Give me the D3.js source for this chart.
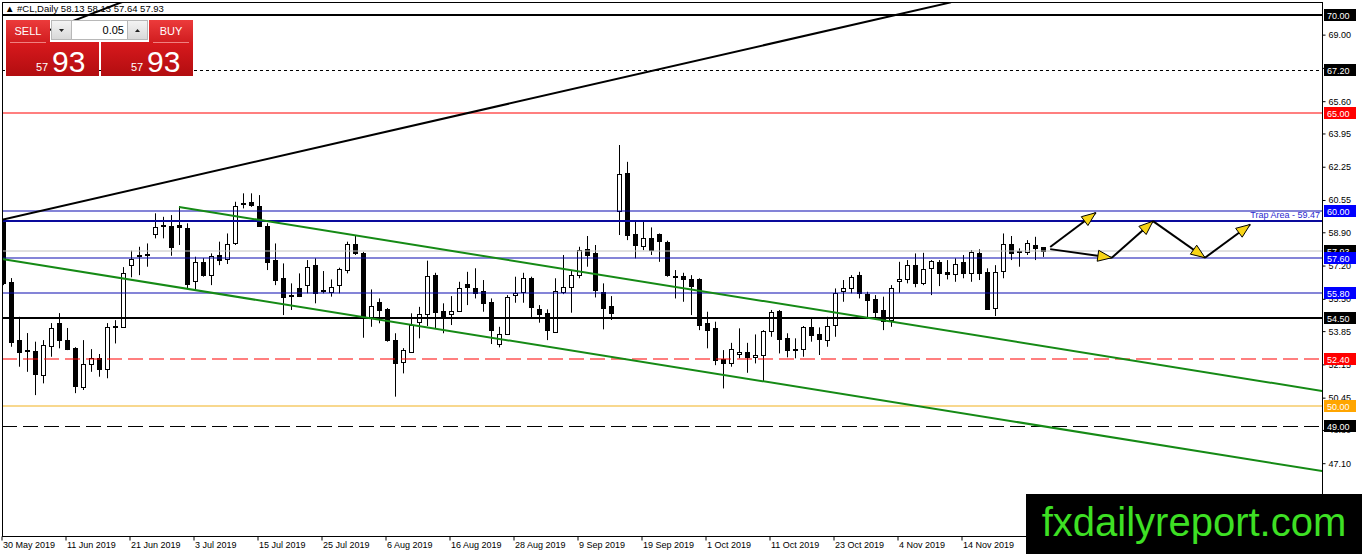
<!DOCTYPE html>
<meta charset="utf-8">
<script src="https://d3js.org/d3.v7.min.js"></script>
<style>
body { margin: 0; background: #fff; }
svg { display: block; font-family: "Liberation Sans", Arial, sans-serif; }
.axis text { font-size: 9px; fill: #000; }
.axis line { stroke: #000; }
</style>
<body>
<div id="chart"></div>
<script>
// #CL daily candles, 30 May 2019 .. 28 Nov 2019 (weekdays)
var startDay = new Date(2019, 4, 30);
var endDay = new Date(2019, 10, 29);

var open = [59.44,56.37,53.39,52.90,52.83,51.60,53.09,54.25,53.39,52.97,51.01,52.17,52.47,51.90,54.04,54.07,57.22,57.68,57.75,58.81,
59.25,59.22,59.27,59.10,56.42,57.39,56.71,57.74,57.52,58.33,60.36,60.43,60.24,59.22,57.48,56.55,55.71,56.03,56.17,57.22,
55.89,55.86,56.20,56.97,58.28,57.85,54.53,55.35,54.96,53.39,52.28,52.80,54.28,54.71,56.71,54.87,54.71,54.89,56.25,56.03,
55.90,55.35,53.19,53.74,55.69,55.81,56.55,54.96,54.76,53.82,55.86,56.12,56.71,58.03,57.82,55.86,55.13,60.00,61.91,58.81,
58.16,58.59,58.79,58.39,56.65,56.66,56.49,56.49,54.25,53.99,52.41,52.23,52.66,52.76,52.51,52.63,53.85,54.87,53.48,52.95,
52.92,54.04,53.68,53.39,54.20,55.86,56.03,56.71,55.74,55.47,54.93,54.42,56.37,56.49,57.22,56.29,57.06,57.39,56.88,56.77,
57.39,56.83,57.85,56.88,55.06,56.93,58.30,57.88,57.85,58.25,58.13];
var high = [59.58,56.56,54.58,53.75,53.31,53.39,54.26,54.77,54.01,53.03,53.39,52.93,52.68,54.26,54.41,57.12,57.96,58.16,58.33,59.87,
59.69,59.78,60.24,59.36,57.65,57.58,57.82,58.42,58.84,60.46,60.89,60.89,60.80,59.36,58.33,57.31,56.29,56.80,57.48,57.57,
56.92,56.49,57.09,58.42,58.71,57.90,55.98,55.52,55.03,53.74,52.98,54.76,55.09,57.45,56.83,55.27,55.64,56.37,56.88,57.06,
56.46,55.52,54.07,55.69,56.63,56.83,56.63,55.18,54.96,56.55,57.74,56.97,58.16,58.71,58.25,56.29,55.64,63.36,62.50,59.44,
59.44,59.15,58.84,58.47,56.97,56.83,56.71,56.55,54.84,54.33,52.88,53.25,53.99,53.25,53.68,53.90,54.93,54.93,53.74,53.48,
54.11,54.55,54.04,54.58,56.03,56.46,56.71,56.88,55.86,55.69,55.61,56.20,57.39,57.48,57.82,57.85,57.48,57.48,57.48,57.57,
57.74,57.99,58.03,57.06,57.22,58.84,58.71,58.08,58.50,58.67,58.13];
var low = [56.20,53.05,52.03,51.77,50.58,51.18,52.54,52.97,52.88,50.68,50.84,51.77,51.52,51.44,53.22,54.04,56.60,56.71,57.14,58.59,
58.59,57.70,58.25,56.03,55.98,56.63,56.20,57.22,57.28,58.25,60.12,60.20,59.18,56.97,56.20,54.67,54.93,55.59,55.78,55.27,
55.78,55.61,55.78,56.80,57.74,53.51,54.07,54.25,53.31,50.50,51.69,52.78,53.48,54.11,53.99,53.74,54.16,54.84,55.18,55.52,
54.84,53.19,53.02,53.65,55.30,55.30,54.50,54.28,53.39,53.77,55.74,54.79,56.55,57.14,55.57,53.94,54.42,58.76,58.50,57.57,
57.99,57.74,57.39,56.63,55.52,55.35,54.67,53.90,52.97,52.11,50.92,52.03,52.46,51.72,52.20,51.26,53.56,52.71,52.51,52.46,
52.54,53.31,52.63,53.05,53.56,55.35,55.78,55.52,54.50,54.42,53.90,54.07,55.81,56.29,56.09,56.20,55.69,56.15,56.49,56.37,
56.55,56.37,56.46,54.96,54.62,56.55,57.48,57.14,57.74,57.48,57.64];
var close = [56.31,53.31,52.80,52.86,51.64,53.14,53.99,53.39,52.92,51.01,52.17,52.47,51.90,54.06,54.11,56.83,57.53,57.72,57.79,59.15,
59.29,58.13,59.15,56.25,57.39,56.71,57.68,57.48,58.30,60.24,60.40,60.29,59.22,57.39,56.46,55.57,55.67,55.61,57.11,55.81,
55.93,56.09,57.01,58.28,57.82,54.53,55.13,54.93,53.36,52.23,52.88,54.16,54.71,56.66,54.84,54.50,54.87,56.07,56.12,55.78,
55.30,53.90,53.70,55.61,55.81,56.55,55.09,54.72,53.87,55.91,56.12,56.71,57.99,57.74,55.91,55.06,54.76,61.88,58.76,58.25,
58.59,57.99,58.42,56.71,56.61,56.49,56.15,54.16,53.90,52.37,52.23,52.92,52.76,52.51,52.63,53.85,54.81,53.43,52.85,52.88,
54.04,53.61,53.43,54.12,55.81,56.03,56.60,55.81,55.44,54.79,54.38,56.03,56.49,57.22,56.32,57.01,57.43,56.83,56.77,57.26,
56.83,57.90,56.83,55.01,56.88,58.30,57.85,57.92,58.33,58.08,57.93];

var tickLabels = ["30 May 2019","11 Jun 2019","21 Jun 2019","3 Jul 2019","15 Jul 2019","25 Jul 2019","6 Aug 2019","16 Aug 2019",
  "28 Aug 2019","9 Sep 2019","19 Sep 2019","1 Oct 2019","11 Oct 2019","23 Oct 2019","4 Nov 2019","14 Nov 2019"];
var priceTicks = [69.00,67.30,65.60,63.95,62.25,60.55,58.90,57.20,55.50,53.85,52.15,50.45,48.80,47.10,45.40];

// horizontal levels
var levelPrices = [70.00,67.20,65.00,60.00,59.47,57.93,57.60,55.80,54.50,52.40,50.00,49.00];
var levelNames = ["l70","l672","l65","l60","trap","bid","l576","l558","l545","l524","l50","l49"];

// trend lines as [bar index, price] pairs
var trendNames = ["resist","stub","chanTop","chanBot"];
var trendFrom = [[-0.125,59.54],[4.0,68.95],[22,60.19],[-0.125,57.53]];
var trendTo = [[118.5,70.65],[15.5,70.76],[164.9,50.79],[164.9,46.70]];

// forecast arrows, [bar index, price] from -> to
var arrowFrom = [[130.9,58.15],[130.9,58.04],[138.6,57.60],[143.75,59.47],[150.25,57.60]];
var arrowTo = [[136.6,59.90],[138.6,57.60],[143.75,59.47],[150.25,57.60],[155.9,59.30]];

var lastBar = {o: 58.13, h: 58.13, l: 57.64, c: 57.93};

// ---- styles ----
var levelStyle = {
  l70:  {stroke: "#000", w: 2, box: "#000", snap: true},
  l672: {stroke: "#000", w: 1, dash: "3,3", box: "#000", snap: true},
  l65:  {stroke: "#ff0000", w: 1.2, box: "#ff0000"},
  l60:  {stroke: "#0a0ab0", w: 1.2, box: "#0000ff"},
  trap: {stroke: "#0a0a9c", w: 2, snap: true},
  bid:  {stroke: "#c0c0c0", w: 1, box: "#000"},
  l576: {stroke: "#0a0ab0", w: 1.2, box: "#0000ff"},
  l558: {stroke: "#0a0ab0", w: 1.2, box: "#0000ff"},
  l545: {stroke: "#000", w: 2, box: "#000", snap: true},
  l524: {stroke: "#ff0000", w: 1.2, dash: "15,6", box: "#ff0000"},
  l50:  {stroke: "#f2b21e", w: 1.2, box: "#ffa500"},
  l49:  {stroke: "#000", w: 1, dash: "15,6", box: "#000", snap: true}
};
var trendStyle = {
  resist: {stroke: "#000", w: 2},
  stub: {stroke: "#000", w: 2},
  chanTop: {stroke: "#158a15", w: 2},
  chanBot: {stroke: "#158a15", w: 2}
};

var width = 1362, height = 554;
var plot = {l: 2, r: 1322, t: 2, b: 536};

var fmt = d3.timeFormat("%-d %b %Y");
var dates = d3.timeDay.range(startDay, endDay).filter(function(d) { return d.getDay() > 0 && d.getDay() < 6; });
var keys = dates.map(fmt);

var x = d3.scaleBand()
  .domain(keys)
  .range([-1, -1 + 8 * keys.length]);
var bw = x.bandwidth();
var xi = d3.scaleLinear()
  .domain([0, keys.length - 1])
  .range([x(keys[0]) + bw / 2, x(keys[keys.length - 1]) + bw / 2]);
var y = d3.scaleLinear()
  .domain([43.38, 70.77])
  .range([plot.b, 0]);

// black lines snap to the pixel grid, coloured ones keep a soft edge
function lineY(p, st) {
  var v = y(p);
  if (!st.snap) return Math.round(v);
  return st.w % 2 ? Math.round(v) + 0.5 : Math.round(v);
}

var svg = d3.select("#chart").append("svg")
  .attr("width", width)
  .attr("height", height);

svg.append("rect").attr("width", width).attr("height", height).attr("fill", "#fff");

svg.append("defs").append("clipPath").attr("id", "plotclip")
  .append("rect")
  .attr("x", plot.l).attr("y", plot.t)
  .attr("width", plot.r - plot.l).attr("height", plot.b - plot.t);

var g = svg.append("g").attr("clip-path", "url(#plotclip)");

// candles
var bars = keys.map(function(k, i) {
  return {k: k, o: open[i], h: high[i], l: low[i], c: close[i]};
});

var candle = g.append("g").selectAll("g")
  .data(bars).enter()
  .append("g");

candle.append("line")
  .attr("x1", function(d) { return Math.round(x(d.k) + bw / 2) + 0.5; })
  .attr("x2", function(d) { return Math.round(x(d.k) + bw / 2) + 0.5; })
  .attr("y1", function(d) { return y(d.h); })
  .attr("y2", function(d) { return y(d.l); })
  .attr("stroke", "#000");

candle.append("rect")
  .attr("x", function(d) { return Math.round(x(d.k) + bw / 2) - 1.5; })
  .attr("y", function(d) { return Math.round(y(Math.max(d.o, d.c))) + 0.5; })
  .attr("width", 4)
  .attr("height", function(d) { return Math.max(0.5, Math.round(Math.abs(y(d.o) - y(d.c)))); })
  .attr("fill", function(d) { return d.c >= d.o ? "#fff" : "#000"; })
  .attr("stroke", "#000");

// horizontal levels
g.append("g").selectAll("line")
  .data(levelNames).enter()
  .append("line")
  .attr("x1", plot.l).attr("x2", plot.r)
  .attr("y1", function(d, i) { return lineY(levelPrices[i], levelStyle[d]); })
  .attr("y2", function(d, i) { return lineY(levelPrices[i], levelStyle[d]); })
  .attr("stroke", function(d) { return levelStyle[d].stroke; })
  .attr("stroke-width", function(d) { return levelStyle[d].w; })
  .attr("stroke-dasharray", function(d) { return levelStyle[d].dash || null; });

// trend lines
g.append("g").selectAll("line")
  .data(trendNames).enter()
  .append("line")
  .attr("x1", function(d, i) { return xi(trendFrom[i][0]); })
  .attr("y1", function(d, i) { return y(trendFrom[i][1]); })
  .attr("x2", function(d, i) { return xi(trendTo[i][0]); })
  .attr("y2", function(d, i) { return y(trendTo[i][1]); })
  .attr("stroke", function(d) { return trendStyle[d].stroke; })
  .attr("stroke-width", function(d) { return trendStyle[d].w; });

// trap area text
g.append("text")
  .attr("x", plot.r - 2)
  .attr("y", y(levelPrices[levelNames.indexOf("trap")]) - 3)
  .attr("text-anchor", "end")
  .attr("font-size", "9px")
  .attr("fill", "#2a2ad0")
  .text("Trap Area - 59.47");

// arrows
var arrows = g.append("g");
arrowFrom.forEach(function(a, i) {
  var x1 = xi(a[0]), y1 = y(a[1]), x2 = xi(arrowTo[i][0]), y2 = y(arrowTo[i][1]);
  arrows.append("line")
    .attr("x1", x1).attr("y1", y1).attr("x2", x2).attr("y2", y2)
    .attr("stroke", "#000").attr("stroke-width", 2);
  var ang = Math.atan2(y2 - y1, x2 - x1), len = 14, hw = 5.5;
  var bx = x2 - len * Math.cos(ang), by = y2 - len * Math.sin(ang);
  var px = -Math.sin(ang) * hw, py = Math.cos(ang) * hw;
  arrows.append("path")
    .attr("d", "M" + x2 + "," + y2 + "L" + (bx + px) + "," + (by + py) + "L" + (bx - px) + "," + (by - py) + "Z")
    .attr("fill", "#f7d417")
    .attr("stroke", "#000")
    .attr("stroke-width", 1);
});

// frame
svg.append("rect")
  .attr("x", plot.l + 0.5).attr("y", plot.t + 0.5)
  .attr("width", plot.r - plot.l).attr("height", plot.b - plot.t)
  .attr("fill", "none").attr("stroke", "#000");

// right price axis
var yAxis = svg.append("g")
  .attr("class", "axis")
  .attr("transform", "translate(" + (plot.r + 0.5) + ",0)")
  .call(d3.axisRight(y).tickValues(priceTicks).tickFormat(d3.format(".2f")).tickSize(3).tickPadding(3));
yAxis.select(".domain").remove();

// level labels on axis
var boxes = svg.append("g");
levelNames.forEach(function(n, i) {
  var st = levelStyle[n];
  if (!st.box) return;
  var yy = Math.round(y(levelPrices[i]));
  boxes.append("rect")
    .attr("x", plot.r + 2).attr("y", yy - 6)
    .attr("width", 32).attr("height", 12)
    .attr("fill", st.box);
  boxes.append("text")
    .attr("x", plot.r + 5).attr("y", yy + 3.5)
    .attr("font-size", "9px").attr("fill", "#fff")
    .text(levelPrices[i].toFixed(2));
});

// bottom time axis
var xAxis = svg.append("g")
  .attr("class", "axis")
  .attr("transform", "translate(0," + (plot.b + 0.5) + ")")
  .call(d3.axisBottom(x).tickValues(tickLabels).tickSize(4).tickPadding(1));
xAxis.select(".domain").remove();
xAxis.selectAll(".tick line").attr("transform", "translate(-1,0)");
xAxis.selectAll(".tick text").attr("text-anchor", "start").attr("dx", 0);

// header
svg.append("text")
  .attr("x", 5).attr("y", 12)
  .attr("font-size", "9.5px").attr("fill", "#000")
  .text("\u25B2 #CL,Daily  " + lastBar.o.toFixed(2) + " " + lastBar.h.toFixed(2) + " " + lastBar.l.toFixed(2) + " " + lastBar.c.toFixed(2));

// one-click trading panel
var defs = svg.select("defs");
var gr1 = defs.append("linearGradient").attr("id", "redTop").attr("x1", 0).attr("y1", 0).attr("x2", 0).attr("y2", 1);
gr1.append("stop").attr("offset", "0%").attr("stop-color", "#ec3b3b");
gr1.append("stop").attr("offset", "100%").attr("stop-color", "#d01c1f");
var gr2 = defs.append("linearGradient").attr("id", "redBig").attr("x1", 0).attr("y1", 0).attr("x2", 0).attr("y2", 1);
gr2.append("stop").attr("offset", "0%").attr("stop-color", "#d8191d");
gr2.append("stop").attr("offset", "100%").attr("stop-color", "#b20d10");
var gr3 = defs.append("linearGradient").attr("id", "grey").attr("x1", 0).attr("y1", 0).attr("x2", 0).attr("y2", 1);
gr3.append("stop").attr("offset", "0%").attr("stop-color", "#f4f4f4");
gr3.append("stop").attr("offset", "100%").attr("stop-color", "#d8d8d8");

var panel = svg.append("g");
panel.append("rect").attr("x", 6).attr("y", 20).attr("width", 44).attr("height", 23).attr("fill", "url(#redTop)");
panel.append("rect").attr("x", 149).attr("y", 20).attr("width", 44).attr("height", 23).attr("fill", "url(#redTop)");
panel.append("rect").attr("x", 6).attr("y", 42).attr("width", 93).attr("height", 34).attr("fill", "url(#redBig)");
panel.append("rect").attr("x", 101).attr("y", 42).attr("width", 92).attr("height", 34).attr("fill", "url(#redBig)");
panel.append("line").attr("x1", 10).attr("x2", 46).attr("y1", 42.5).attr("y2", 42.5).attr("stroke", "#f08080");
panel.append("line").attr("x1", 153).attr("x2", 189).attr("y1", 42.5).attr("y2", 42.5).attr("stroke", "#f08080");
panel.append("rect").attr("x", 51.5).attr("y", 20.5).attr("width", 20).attr("height", 19).attr("fill", "url(#grey)").attr("stroke", "#b8b8b8");
panel.append("rect").attr("x", 71.5).attr("y", 20.5).attr("width", 56).attr("height", 19).attr("fill", "#fff").attr("stroke", "#b8b8b8");
panel.append("rect").attr("x", 127.5).attr("y", 20.5).attr("width", 20).attr("height", 19).attr("fill", "url(#grey)").attr("stroke", "#b8b8b8");
panel.append("path").attr("d", "M59,29 L64,29 L61.5,32 Z").attr("fill", "#222");
panel.append("path").attr("d", "M135,32 L140,32 L137.5,29 Z").attr("fill", "#222");
panel.append("text").attr("x", 124).attr("y", 34).attr("text-anchor", "end").attr("font-size", "11px").attr("fill", "#000").text("0.05");
panel.append("text").attr("x", 28).attr("y", 35).attr("text-anchor", "middle").attr("font-size", "11px").attr("fill", "#fff").text("SELL");
panel.append("text").attr("x", 171).attr("y", 35).attr("text-anchor", "middle").attr("font-size", "11px").attr("fill", "#fff").text("BUY");
var bidStr = lastBar.c.toFixed(2).split(".");
[[36, 52], [131, 147]].forEach(function(p) {
  panel.append("text").attr("x", p[0]).attr("y", 71).attr("font-size", "11px").attr("fill", "#fff").text(bidStr[0]);
  panel.append("text").attr("x", p[1]).attr("y", 72).attr("font-size", "30px").attr("fill", "#fff").text(bidStr[1]);
});

// watermark
svg.append("rect").attr("x", 1026).attr("y", 494).attr("width", 336).attr("height", 60).attr("fill", "#000");
svg.append("text")
  .attr("x", 1194).attr("y", 536)
  .attr("text-anchor", "middle")
  .attr("font-size", "40px")
  .attr("fill", "#3ee024")
  .text("fxdailyreport.com");
</script>
</body>
